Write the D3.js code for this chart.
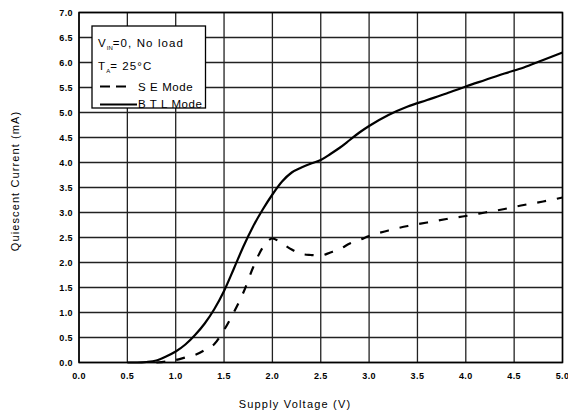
<!DOCTYPE html>
<html>
<head>
<meta charset="utf-8">
<script src="https://cdn.jsdelivr.net/npm/d3@7"></script>
<style>
  html, body { margin: 0; padding: 0; background: #fff; }
  text { font-family: "Liberation Sans", Arial, sans-serif; fill: #000; }
</style>
</head>
<body>
<svg id="chart" width="568" height="418"></svg>
<script>
const xTicks = [0, 0.5, 1.0, 1.5, 2.0, 2.5, 3.0, 3.5, 4.0, 4.5, 5.0];
const yTicks = [0, 0.5, 1.0, 1.5, 2.0, 2.5, 3.0, 3.5, 4.0, 4.5, 5.0, 5.5, 6.0, 6.5, 7.0];

const btlV = [0.5, 0.6, 0.7, 0.8, 0.9, 1.0, 1.1, 1.2, 1.3, 1.4, 1.5, 1.6, 1.7, 1.8, 1.9, 2.0, 2.1, 2.2, 2.3, 2.4, 2.5, 2.6, 2.7, 2.8, 2.9, 3.0, 3.2, 3.4, 3.6, 3.8, 4.0, 4.2, 4.4, 4.6, 4.8, 5.0];
const btlI = [0, 0, 0.01, 0.04, 0.12, 0.22, 0.36, 0.55, 0.78, 1.07, 1.43, 1.87, 2.32, 2.72, 3.06, 3.36, 3.62, 3.8, 3.9, 3.98, 4.05, 4.17, 4.3, 4.45, 4.6, 4.73, 4.95, 5.12, 5.25, 5.38, 5.52, 5.65, 5.78, 5.9, 6.05, 6.2];

const seV = [0.8, 0.9, 1.0, 1.1, 1.2, 1.3, 1.4, 1.5, 1.6, 1.7, 1.8, 1.9, 2.0, 2.1, 2.2, 2.3, 2.4, 2.5, 2.6, 2.7, 2.8, 2.9, 3.0, 3.2, 3.4, 3.6, 3.8, 4.0, 4.2, 4.4, 4.6, 4.8, 5.0];
const seI = [0, 0.02, 0.05, 0.1, 0.15, 0.25, 0.37, 0.65, 1.0, 1.4, 1.9, 2.3, 2.48, 2.38, 2.26, 2.17, 2.15, 2.14, 2.2, 2.27, 2.38, 2.45, 2.53, 2.64, 2.73, 2.8, 2.87, 2.93, 3.0, 3.07, 3.15, 3.22, 3.3];

const svg = d3.select("#chart");
const x = d3.scaleLinear().domain([0, 5]).range([79, 562.5]);
const y = d3.scaleLinear().domain([0, 7]).range([362.5, 12.5]);

// grid
const g = svg.append("g");
g.selectAll("line.vx").data(xTicks).join("line")
  .attr("x1", d => x(d)).attr("x2", d => x(d))
  .attr("y1", y(0)).attr("y2", y(7))
  .attr("stroke", "#222").attr("stroke-width", 1.3);
g.selectAll("line.hy").data(yTicks).join("line")
  .attr("y1", d => y(d)).attr("y2", d => y(d))
  .attr("x1", x(0)).attr("x2", x(5))
  .attr("stroke", "#222").attr("stroke-width", 1.3);
g.append("rect").attr("x", x(0)).attr("y", y(7))
  .attr("width", x(5) - x(0)).attr("height", y(0) - y(7))
  .attr("fill", "none").attr("stroke", "#000").attr("stroke-width", 1.5);

// tick labels
svg.append("g").selectAll("text").data(xTicks).join("text")
  .attr("x", d => x(d)).attr("y", 379)
  .attr("text-anchor", "middle").attr("font-size", 9).attr("font-weight", "bold")
  .attr("letter-spacing", 0.4)
  .text(d => d.toFixed(1));
svg.append("g").selectAll("text").data(yTicks).join("text")
  .attr("x", 73).attr("y", d => y(d) + 3.5)
  .attr("text-anchor", "end").attr("font-size", 9).attr("font-weight", "bold")
  .attr("letter-spacing", 0.4)
  .text(d => d.toFixed(1));

// axis titles
svg.append("text").attr("x", 295).attr("y", 408).attr("text-anchor", "middle")
  .attr("font-size", 11).attr("letter-spacing", 1.2).text("Supply Voltage (V)");
svg.append("text").attr("transform", "translate(19,181) rotate(-90)")
  .attr("text-anchor", "middle").attr("font-size", 11).attr("letter-spacing", 1.1)
  .text("Quiescent Current (mA)");

// curves
const line = d3.line().x(d => x(d[0])).y(d => y(d[1])).curve(d3.curveMonotoneX);
svg.append("path").datum(btlV.map((v, i) => [v, btlI[i]]))
  .attr("d", line).attr("fill", "none").attr("stroke", "#000").attr("stroke-width", 2.2);
svg.append("path").datum(seV.map((v, i) => [v, seI[i]]))
  .attr("d", line).attr("fill", "none").attr("stroke", "#000").attr("stroke-width", 2.2)
  .attr("stroke-dasharray", "9,11");

// legend
const lg = svg.append("g");
lg.append("rect").attr("x", 92).attr("y", 26).attr("width", 113.5).attr("height", 82)
  .attr("fill", "#fff").attr("stroke", "#000").attr("stroke-width", 1.3);
const t1 = lg.append("text").attr("x", 98).attr("y", 47).attr("font-size", 11.5).attr("letter-spacing", 1.1);
t1.append("tspan").text("V");
t1.append("tspan").attr("font-size", 6).attr("dy", 3).attr("letter-spacing", 0).text("IN");
t1.append("tspan").attr("dy", -3).text("=0, No load");
const t2 = lg.append("text").attr("x", 98).attr("y", 70).attr("font-size", 11.5).attr("letter-spacing", 1.1);
t2.append("tspan").text("T");
t2.append("tspan").attr("font-size", 6).attr("dy", 3).attr("letter-spacing", 0).text("A");
t2.append("tspan").attr("dy", -3).text("= 25°C");
lg.append("line").attr("x1", 100).attr("x2", 131).attr("y1", 86.5).attr("y2", 86.5)
  .attr("stroke", "#000").attr("stroke-width", 2.2).attr("stroke-dasharray", "10,6");
lg.append("text").attr("x", 138).attr("y", 90.5).attr("font-size", 11.5).attr("letter-spacing", 0.6).text("S E Mode");
lg.append("line").attr("x1", 100).attr("x2", 137).attr("y1", 104.5).attr("y2", 104.5)
  .attr("stroke", "#000").attr("stroke-width", 2.2);
lg.append("text").attr("x", 138).attr("y", 108).attr("font-size", 11.5).attr("letter-spacing", 0.6).text("B T L Mode");
</script>
</body>
</html>
